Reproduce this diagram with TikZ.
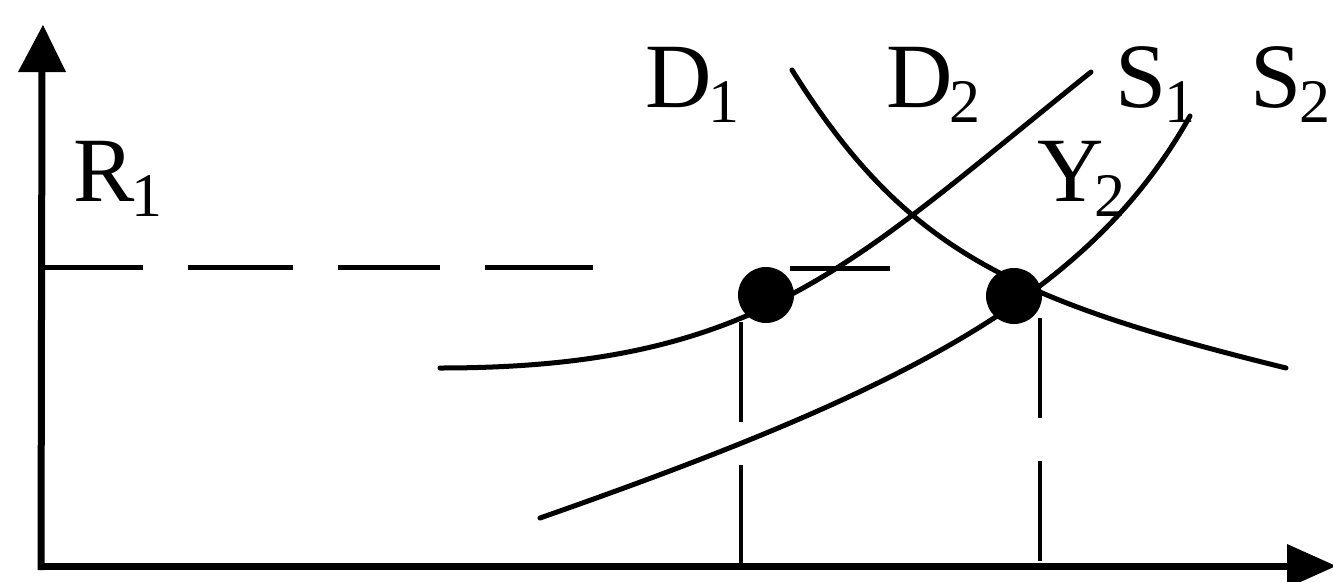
\documentclass[tikz,border=0pt]{standalone}
\usepackage{fontspec}
\setmainfont{Liberation Serif}
\newcommand{\mysub}[1]{\raisebox{-15pt}{\fontsize{62pt}{62pt}\selectfont #1}}
\begin{document}
\begin{tikzpicture}[x=1pt,y=-1pt,
  axisline/.style={line width=7pt},
  curveline/.style={line width=5pt, line cap=round, line join=round},
  guide/.style={line width=3.5pt, dash pattern=on 100pt off 43pt},
  hguide/.style={line width=5pt},
  lbl/.style={anchor=base west, inner sep=0pt, font=\fontsize{92pt}{100pt}\selectfont},
  eqdot/.style={circle, fill=black, minimum size=56pt, inner sep=0pt}]
\useasboundingbox (0,0) rectangle (1333,581);
% axes
\coordinate (O) at (41,566);
\coordinate (Ytop) at (42,70);
\coordinate (Xend) at (1290,566);
\draw[axisline] (41,570) -- (Ytop);
\draw[axisline] (O) -- (Xend);
\fill (43,25) -- (18,72) -- (66,72) -- cycle;
\fill (1336,566) -- (1287,544) -- (1287,588) -- cycle;
% equilibrium dots
\node[eqdot] (E1) at (766,295) {};
\node[eqdot] (E2) at (1014,296) {};
% horizontal dashed R1
\draw[hguide] (41,267) -- (143,267);
\draw[hguide] (188,267) -- (293,267);
\draw[hguide] (338,267) -- (440,267);
\draw[hguide] (485,267) -- (593,267);
\draw[hguide] (790,268) -- (890,268);
% vertical dashed
\draw[guide] (741,322) -- (741,566);
\draw[guide] (1040,318) -- (1040,566);
% curves
\draw[curveline] (440,368) .. controls (760,368) and (850,265) .. (1091,72);
\draw[curveline] (792,70) .. controls (905,250) and (1010,300) .. (1286,368);
\draw[curveline] (540,518) .. controls (900,392) and (1088,298) .. (1190,116);
% labels
\node[lbl] (lR) at (73,201) {R\kern-3pt\mysub{1}};
\node[lbl] (lD1) at (645,107) {D\kern-3pt\mysub{1}};
\node[lbl] (lD2) at (886,107) {D\kern-3pt\mysub{2}};
\node[lbl] (lS1) at (1115,107) {S\kern-2pt\mysub{1}};
\node[lbl] (lS2) at (1250,107) {S\kern-2pt\mysub{2}};
\node[lbl] (lY) at (1037,201) {Y\kern-9pt\mysub{2}};
\end{tikzpicture}
\end{document}
